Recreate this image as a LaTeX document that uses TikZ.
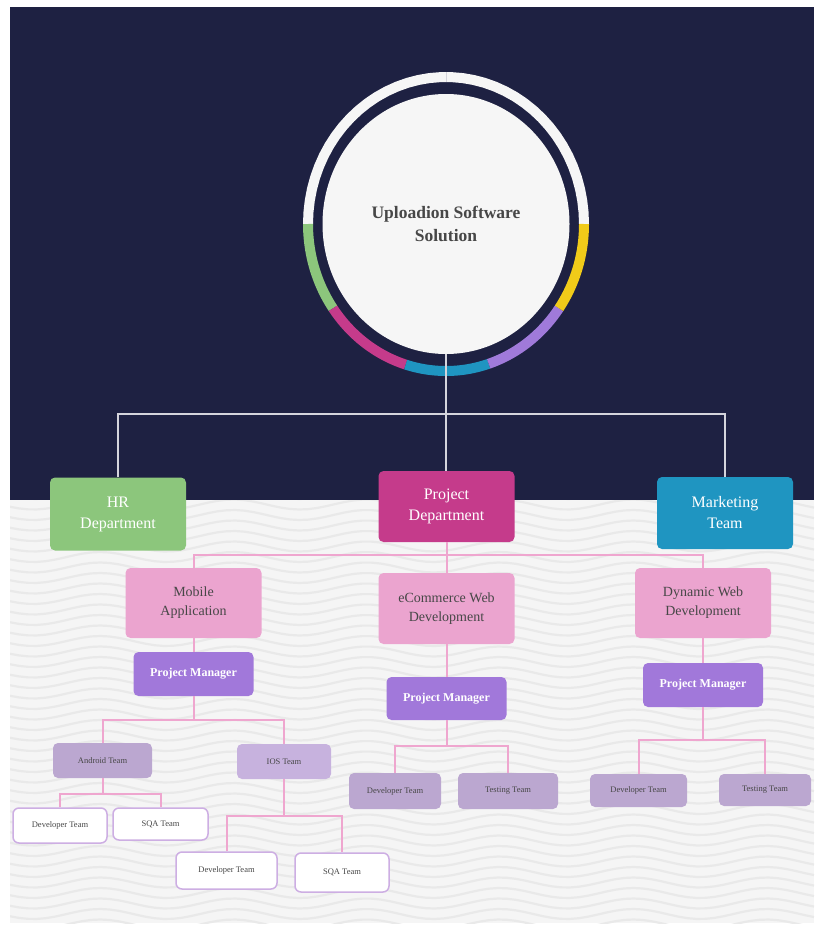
\documentclass[tikz,border=0pt]{standalone}
\usepackage{fontspec}
\setmainfont{Liberation Serif}
\usetikzlibrary{shapes.geometric}
\definecolor{nightblue}{HTML}{1E2142}
\definecolor{paper}{HTML}{F5F5F5}
\definecolor{wavegrey}{HTML}{E9E9E9}
\definecolor{ringwhite}{HTML}{F6F6F6}
\definecolor{hrgreen}{HTML}{8CC67C}
\definecolor{projmagenta}{HTML}{C53B8B}
\definecolor{mktblue}{HTML}{1F95C1}
\definecolor{ringpurple}{HTML}{A07ADA}
\definecolor{ringyellow}{HTML}{F1CB19}
\definecolor{unitpink}{HTML}{EBA4CF}
\definecolor{linepink}{HTML}{EFA6CF}
\definecolor{linegrey}{HTML}{D4D4DC}
\definecolor{pmpurple}{HTML}{A178DA}
\definecolor{teamlilac}{HTML}{BBA7D0}
\definecolor{ioslilac}{HTML}{C7B2DE}
\definecolor{leafline}{HTML}{CDAEE3}
\definecolor{textgrey}{HTML}{474747}
\def\ringarc[#1](#2:#3){\draw[#1, line width=10] plot[domain=#2:#3, samples=40] ({446+138*cos(\x)},{224+147*sin(\x)});}
\tikzset{
  dept/.style={rounded corners=5, inner sep=0, text=white, align=center,
    minimum width=136, minimum height=73, font=\fontsize{16}{21}\selectfont},
  unitbox/.style={rounded corners=5, inner sep=0, fill=unitpink, text=textgrey, align=center,
    minimum width=136, minimum height=70, font=\fontsize{14}{19}\selectfont},
  pmbox/.style={rounded corners=5, inner sep=0, fill=pmpurple, text=white,
    minimum width=120, minimum height=44, font=\bfseries\fontsize{12}{14}\selectfont},
  teambox/.style={rounded corners=5, inner sep=0, fill=teamlilac, text=textgrey,
    minimum width=97, minimum height=35, font=\fontsize{8.5}{10}\selectfont},
  leafbox/.style={rounded corners=6, inner sep=0, fill=white, draw=leafline, line width=1.5,
    text=textgrey, minimum width=95, minimum height=35, font=\fontsize{8.5}{10}\selectfont},
  pinkline/.style={draw=linepink, line width=2},
  greyline/.style={draw=linegrey, line width=2},
  wave/.style={draw=wavegrey, line width=2.2},
}
\begin{document}
\begin{tikzpicture}[x=1pt, y=-1pt]
		%%%%% START %%%%%
		\useasboundingbox (0, 0) rectangle (814, 926);
		
		\fill[nightblue] (10, 7) rectangle (814, 500);
		\fill[paper] (10, 500) rectangle (814, 923);
		\begin{scope}
			\clip (10, 500) rectangle (814, 923);
			\foreach \w in {494, 504.5, ..., 934}
				\draw[wave] plot[domain=10:814, samples=90] (\x, {\w + 5*sin(\x*2.7)});
		\end{scope}
		
		%% ring round the company
		\ringarc[ringwhite](180:360);
		\draw[linegrey, line width=0.8] (446, 72) -- (446, 82);
		\ringarc[hrgreen](180:145);
		\ringarc[projmagenta](145:107);
		\ringarc[mktblue](107:72);
		\ringarc[ringpurple](72:35);
		\ringarc[ringyellow](35:0);
		
		\node[ellipse, inner sep=0, fill=ringwhite, minimum width=247, minimum height=260,
			text=textgrey, align=center, font=\bfseries\fontsize{17.5}{23}\selectfont]
			(root) at (446, 224) {Uploadion Software\\Solution};
		
		%% departments
		\node[dept, fill=hrgreen] (hr) at (118, 514) {HR\\Department};
		\node[dept, fill=projmagenta, minimum height=71] (pd) at (446.5, 506.5) {Project\\Department};
		\node[dept, fill=mktblue, minimum height=72] (mkt) at (725, 513) {Marketing\\Team};
		
		\node[unitbox] (mob) at (193.5, 603) {Mobile\\Application};
		\node[unitbox, minimum height=71] (ecom) at (446.5, 608.5) {eCommerce Web\\Development};
		\node[unitbox] (dyn) at (703, 603) {Dynamic Web\\Development};
		
		\node[pmbox] (pmA) at (193.5, 674) {Project Manager};
		\node[pmbox, minimum height=43] (pmB) at (446.5, 698.5) {Project Manager};
		\node[pmbox] (pmC) at (703, 685) {Project Manager};
		
		%% teams
		\node[teambox, minimum width=99] (android) at (102.5, 760.5) {Android Team};
		\node[teambox, fill=ioslilac, minimum width=94] (ios) at (284, 761.5) {IOS Team};
		\node[leafbox, minimum width=94] (devA) at (60, 825.5) {Developer Team};
		\node[leafbox, minimum height=32] (sqaA) at (160.5, 824) {SQA Team};
		\node[leafbox, minimum width=101, minimum height=37] (devI) at (226.5, 870.5) {Developer Team};
		\node[leafbox, minimum width=94, minimum height=39] (sqaI) at (342, 872.5) {SQA Team};
		
		\node[teambox, minimum width=92, minimum height=36] (devB) at (395, 791) {Developer Team};
		\node[teambox, minimum width=100, minimum height=36] (testB) at (508, 791) {Testing Team};
		\node[teambox, minimum height=33] (devC) at (638.5, 790.5) {Developer Team};
		\node[teambox, minimum width=92, minimum height=32] (testC) at (765, 790) {Testing Team};
		
		%% connectors
		\coordinate (j0) at (446, 414);
		\draw[greyline] (root.south) -- (j0);
		\draw[greyline] (hr.north) |- (j0) -| (mkt.north);
		\draw[greyline] (j0) -- (pd.north -| j0);
		
		\coordinate (j1) at (446.5, 555);
		\draw[pinkline] (pd.south) -- (ecom.north);
		\draw[pinkline] (mob.north) |- (j1) -| (dyn.north);
		\draw[pinkline] (mob.south) -- (pmA.north);
		\draw[pinkline] (ecom.south) -- (pmB.north);
		\draw[pinkline] (dyn.south) -- (pmC.north);
		
		\coordinate (j2) at (193.5, 720);
		\draw[pinkline] (pmA.south) -- (j2);
		\draw[pinkline] (android.north) |- (j2) -| (ios.north);
		\coordinate (j3) at (102.5, 794);
		\draw[pinkline] (android.south) -- (j3);
		\draw[pinkline] (devA.north) |- (j3) -| (sqaA.north);
		\coordinate (j4) at (284, 816);
		\draw[pinkline] (ios.south) -- (j4);
		\draw[pinkline] (devI.north) |- (j4) -| (sqaI.north);
		
		\coordinate (j5) at (446.5, 746);
		\draw[pinkline] (pmB.south) -- (j5);
		\draw[pinkline] (devB.north) |- (j5) -| (testB.north);
		\coordinate (j6) at (703, 740);
		\draw[pinkline] (pmC.south) -- (j6);
		\draw[pinkline] (devC.north) |- (j6) -| (testC.north);
		
		%%%%% END %%%%%
\end{tikzpicture}
\end{document}
